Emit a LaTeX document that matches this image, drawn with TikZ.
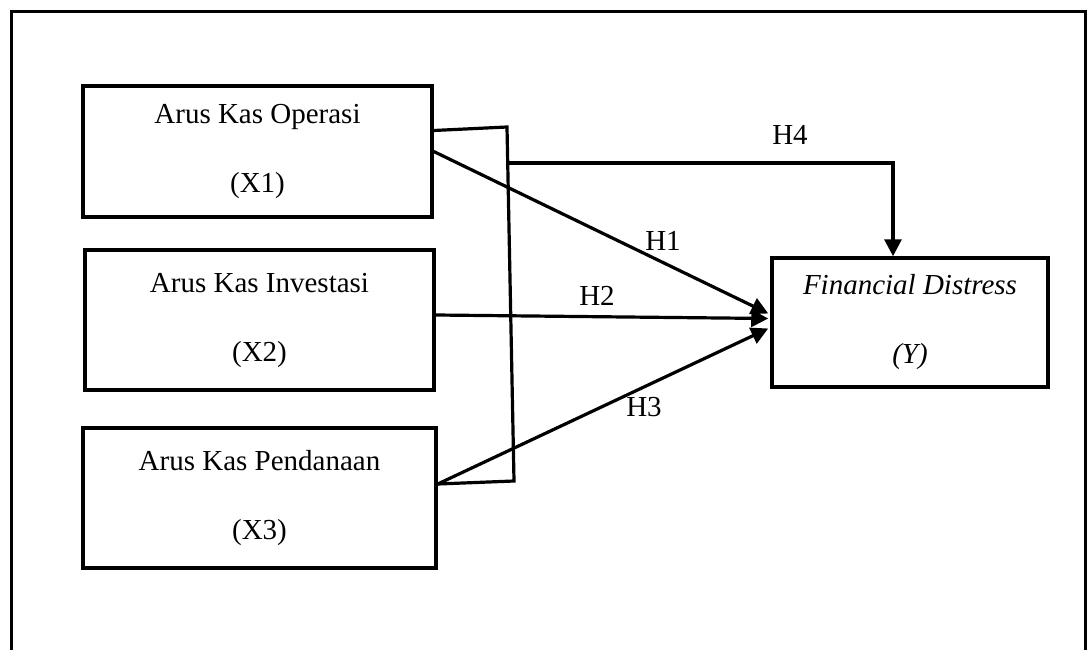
\documentclass[tikz,border=0pt]{standalone}
\usepackage{fontspec}
\setmainfont{Liberation Serif}
\usetikzlibrary{arrows.meta,calc}
\begin{document}
\begin{tikzpicture}[x=1pt,y=-1pt,
  line width=3.2pt,
  varbox/.style={draw,rectangle,line width=3.5pt,inner sep=0pt,align=center,
    font=\fontsize{29}{35}\selectfont},
  lbl/.style={font=\fontsize{29}{35}\selectfont,inner sep=0pt},
  arr/.style={-{Triangle[length=17pt,width=17pt]}}]
\useasboundingbox (0,0) rectangle (1087,650);
% outer frame
\draw[line width=3pt] (11,650) -- (11,12) -- (1085,12) -- (1085,650);
% boxes
\node[varbox,minimum width=349pt,minimum height=131pt] (x1) at (257.5,151.5) {Arus Kas Operasi\\[34pt](X1)};
\node[varbox,minimum width=349pt,minimum height=140pt] (x2) at (259.5,320) {Arus Kas Investasi\\[34pt](X2)};
\node[varbox,minimum width=353pt,minimum height=140pt] (x3) at (259.5,498) {Arus Kas Pendanaan\\[34pt](X3)};
\node[varbox,minimum width=276pt,minimum height=129pt] (y) at (910,322.5) {\itshape Financial Distress\\[34pt]\itshape (Y)};
% bracket
\coordinate (bt) at (507,127);
\coordinate (bb) at (514,481);
\coordinate (bj) at (509,163);
\draw ($(x1.east)+(0,-21)$) -- (bt) -- (bb) -- ($(x3.east)+(0,-14)$);
% H4
\coordinate (h4c) at (893,163);
\draw[arr] (bj) -- (h4c) -- (y.north -| h4c);
% H1-H3
\draw[arr] (x1.east) -- ($(y.west)+(-2,-9)$);
\draw[arr] ($(x2.east)+(0,-5)$) -- ($(y.west)+(-2,-4)$);
\draw[arr] ($(x3.east)+(0,-14)$) -- ($(y.west)+(-2,6)$);
% labels
\node[lbl] (lh4) at (790,135) {H4};
\node[lbl] (lh1) at (663,241) {H1};
\node[lbl] (lh2) at (597,296) {H2};
\node[lbl] (lh3) at (644,407) {H3};
\end{tikzpicture}
\end{document}
